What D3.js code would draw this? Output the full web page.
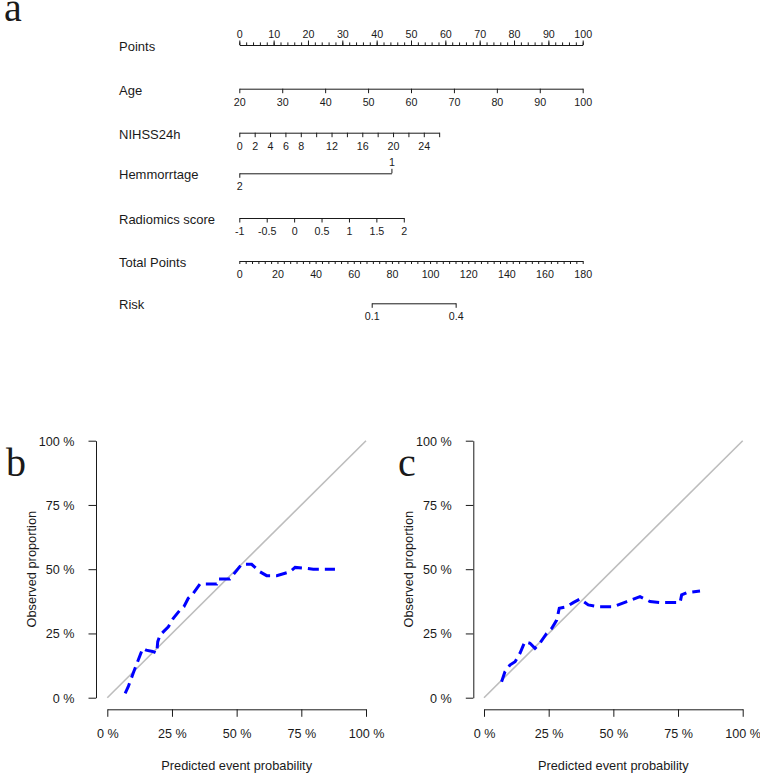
<!DOCTYPE html>
<html>
<head>
<meta charset="utf-8">
<script src="https://cdn.jsdelivr.net/npm/d3@7"></script>
<style>
  html, body { margin: 0; padding: 0; background: #fff; }
  svg { display: block; }
  text { font-family: "Liberation Sans", Arial, Helvetica, sans-serif; fill: #1a1a1a; }
</style>
</head>
<body>
<svg id="chart" width="760" height="776"></svg>
<script>
// ---------------- DATA ----------------
// Nomogram (panel a)
const nomoLabels = ["Points", "Age", "NIHSS24h", "Hemmorrtage", "Radiomics score", "Total Points", "Risk"];
const pointsTicks = [0, 10, 20, 30, 40, 50, 60, 70, 80, 90, 100];
const ageTicks = [20, 30, 40, 50, 60, 70, 80, 90, 100];
const ageRange = [20, 100];          // age -> 0..100 points
const agePoints = [0, 100];
const nihssLabelTicks = [0, 2, 4, 6, 8, 12, 16, 20, 24];
const nihssRange = [0, 26];
const nihssPoints = [0, 58.2];
const hemCategories = ["2", "1"];
const hemPoints = [0, 44.3];
const radioTicks = [-1, -0.5, 0, 0.5, 1, 1.5, 2];
const radioRange = [-1, 2];
const radioPoints = [0, 47.9];
const totalTicks = [0, 20, 40, 60, 80, 100, 120, 140, 160, 180];
const riskTicks = ["0.1", "0.4"];
const riskTotalPoints = [69.4, 113.4];

// Calibration curve (panel b)
const bPred = [0.069, 0.081, 0.100, 0.117, 0.137, 0.150, 0.175, 0.191, 0.195, 0.204, 0.236, 0.255, 0.281, 0.296, 0.313, 0.332, 0.358, 0.423, 0.429, 0.474, 0.519, 0.558, 0.590, 0.616, 0.655, 0.706, 0.726, 0.771, 0.796, 0.880];
const bObs  = [0.017, 0.043, 0.095, 0.140, 0.192, 0.185, 0.180, 0.173, 0.218, 0.244, 0.276, 0.309, 0.341, 0.354, 0.387, 0.406, 0.442, 0.442, 0.462, 0.462, 0.519, 0.519, 0.490, 0.475, 0.475, 0.490, 0.507, 0.503, 0.500, 0.500];
// Calibration curve (panel c)
const cPred = [0.068, 0.081, 0.100, 0.120, 0.139, 0.158, 0.178, 0.197, 0.216, 0.242, 0.262, 0.281, 0.291, 0.320, 0.345, 0.371, 0.403, 0.442, 0.500, 0.552, 0.603, 0.642, 0.687, 0.758, 0.764, 0.784, 0.835];
const cObs  = [0.062, 0.101, 0.127, 0.140, 0.173, 0.218, 0.212, 0.192, 0.212, 0.250, 0.270, 0.302, 0.348, 0.354, 0.370, 0.384, 0.361, 0.354, 0.354, 0.374, 0.393, 0.374, 0.370, 0.370, 0.400, 0.409, 0.415];
const calTicks = [0, 0.25, 0.5, 0.75, 1];

// ---------------- DRAW ----------------
const svg = d3.select("#chart");
const ink = "#1a1a1a";

function styleAxis(g, fs) {
  g.attr("font-family", null).attr("font-size", null);
  g.selectAll("path.domain").attr("stroke", ink).attr("stroke-width", 1);
  g.selectAll(".tick line").attr("stroke", ink).attr("stroke-width", 1);
  g.selectAll(".tick text").attr("fill", ink).style("font-size", fs + "px");
}

// Panel letters
const letterFont = "'Liberation Serif', 'Times New Roman', Times, serif";
svg.append("text").attr("x", 4).attr("y", 21).text("a")
  .style("font-family", letterFont).style("font-size", "40px");
svg.append("text").attr("x", 6).attr("y", 476).text("b")
  .style("font-family", letterFont).style("font-size", "40px");
svg.append("text").attr("x", 398).attr("y", 476).text("c")
  .style("font-family", letterFont).style("font-size", "40px");

// ---- Nomogram ----
const pts = d3.scaleLinear().domain([0, 100]).range([239.3, 582.7]);
const tot = d3.scaleLinear().domain([0, 180]).range([239.3, 582.7]);
const nomo = svg.append("g");
const rowY = {"Points": 45, "Age": 88.7, "NIHSS24h": 132.7, "Hemmorrtage": 173.3,
              "Radiomics score": 218, "Total Points": 261, "Risk": 303.3};
const labelX = 119;
const nfs = 10.7;

nomoLabels.forEach(l => {
  nomo.append("text").attr("x", labelX).attr("y", rowY[l] + 2.5)
    .attr("dominant-baseline", "middle").style("font-size", "13px").text(l);
});

// Points (ticks up, labels above)
{
  const g1 = nomo.append("g").attr("transform", `translate(0,${rowY.Points})`)
    .call(d3.axisTop(pts).tickValues(d3.range(0, 101, 2)).tickFormat("").tickSize(2.6).tickSizeOuter(0));
  styleAxis(g1, nfs);
  const g2 = nomo.append("g").attr("transform", `translate(0,${rowY.Points})`)
    .call(d3.axisTop(pts).tickValues(pointsTicks).tickSize(4.5).tickPadding(3).tickSizeOuter(0));
  styleAxis(g2, nfs);
  g2.select("path.domain").remove();
}
// Age
{
  const s = d3.scaleLinear().domain(ageRange).range(agePoints.map(pts));
  const g = nomo.append("g").attr("transform", `translate(0,${rowY.Age})`)
    .call(d3.axisBottom(s).tickValues(ageTicks).tickSize(4.5).tickPadding(5).tickSizeOuter(0));
  styleAxis(g, nfs);
}
// NIHSS24h
{
  const s = d3.scaleLinear().domain(nihssRange).range(nihssPoints.map(pts));
  const g = nomo.append("g").attr("transform", `translate(0,${rowY.NIHSS24h})`)
    .call(d3.axisBottom(s).tickValues(d3.range(0, 27, 2)).tickSize(4.5).tickPadding(5).tickSizeOuter(0)
      .tickFormat(d => nihssLabelTicks.includes(d) ? d : ""));
  styleAxis(g, nfs);
}
// Hemmorrtage
{
  const s = d3.scalePoint().domain(hemCategories).range(hemPoints.map(pts));
  const g1 = nomo.append("g").attr("transform", `translate(0,${rowY.Hemmorrtage})`)
    .call(d3.axisBottom(s).tickValues(["2"]).tickSize(4.5).tickPadding(5).tickSizeOuter(0));
  styleAxis(g1, nfs);
  const g2 = nomo.append("g").attr("transform", `translate(0,${rowY.Hemmorrtage})`)
    .call(d3.axisTop(s).tickValues(["1"]).tickSize(4.5).tickPadding(3).tickSizeOuter(0));
  styleAxis(g2, nfs);
  g2.select("path.domain").remove();
}
// Radiomics score
{
  const s = d3.scaleLinear().domain(radioRange).range(radioPoints.map(pts));
  const g = nomo.append("g").attr("transform", `translate(0,${rowY["Radiomics score"]})`)
    .call(d3.axisBottom(s).tickValues(radioTicks).tickSize(4.5).tickPadding(5).tickSizeOuter(0)
      .tickFormat(d => String(d)));
  styleAxis(g, nfs);
}
// Total Points
{
  const g1 = nomo.append("g").attr("transform", `translate(0,${rowY["Total Points"]})`)
    .call(d3.axisBottom(tot).tickValues(d3.range(0, 55).map(k => k * 10 / 3)).tickFormat("").tickSize(3).tickSizeOuter(0));
  styleAxis(g1, nfs);
  const g2 = nomo.append("g").attr("transform", `translate(0,${rowY["Total Points"]})`)
    .call(d3.axisBottom(tot).tickValues(totalTicks).tickSize(4.5).tickPadding(5).tickSizeOuter(0));
  styleAxis(g2, nfs);
  g2.selectAll(".tick line").remove();
  g2.select("path.domain").remove();
}
// Risk
{
  const s = d3.scalePoint().domain(riskTicks).range(riskTotalPoints.map(tot));
  const g = nomo.append("g").attr("transform", `translate(0,${rowY.Risk})`)
    .call(d3.axisBottom(s).tickSize(4.5).tickPadding(5).tickSizeOuter(0));
  styleAxis(g, nfs);
}

// ---- Calibration panels ----
function calPanel(x0, yAxisX, pred, obs) {
  const x = d3.scaleLinear().domain([0, 1]).range([x0, x0 + 258.7]);
  const y = d3.scaleLinear().domain([0, 1]).range([697.7, 440.7]);
  const g = svg.append("g");
  const fmt = d => Math.round(d * 100) + " %";
  const xa = g.append("g").attr("transform", "translate(0,709.3)")
    .call(d3.axisBottom(x).tickValues(calTicks).tickFormat(fmt).tickSize(7.5).tickPadding(12).tickSizeOuter(0));
  styleAxis(xa, 12.6);
  const ya = g.append("g").attr("transform", `translate(${yAxisX},0)`)
    .call(d3.axisLeft(y).tickValues(calTicks).tickFormat(fmt).tickSize(7.5).tickPadding(14).tickSizeOuter(0));
  styleAxis(ya, 12.6);
  ya.selectAll(".tick text").attr("dy", "0.36em");

  g.append("line")
    .attr("x1", x(0)).attr("y1", y(0)).attr("x2", x(1)).attr("y2", y(1))
    .attr("stroke", "#bdbdbd").attr("stroke-width", 1.6);

  const line = d3.line().x(d => x(d[0])).y(d => y(d[1]));
  g.append("path").datum(pred.map((p, i) => [p, obs[i]]))
    .attr("d", line).attr("fill", "none").attr("stroke", "#0000ff")
    .attr("stroke-width", 3).attr("stroke-dasharray", "11,6");

  g.append("text").attr("x", (x(0) + x(1)) / 2).attr("y", 767).attr("text-anchor", "middle")
    .attr("dominant-baseline", "middle").style("font-size", "12.8px").text("Predicted event probability");
  g.append("text").attr("transform", `translate(${yAxisX - 63.3},${(y(0) + y(1)) / 2}) rotate(-90)`)
    .attr("text-anchor", "middle").attr("dominant-baseline", "middle")
    .style("font-size", "12.8px").text("Observed proportion");
}
calPanel(107.3, 96, bPred, bObs);
calPanel(484, 473.3, cPred, cObs);
</script>
</body>
</html>
